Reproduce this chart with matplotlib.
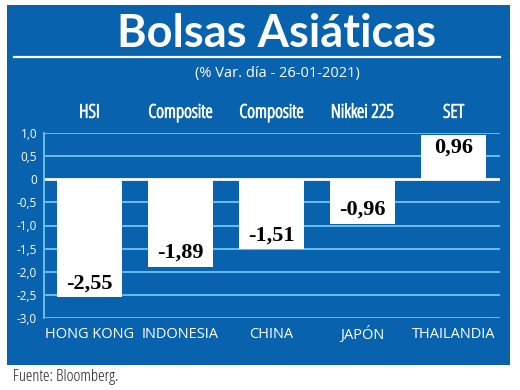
import matplotlib
matplotlib.use("Agg")
import matplotlib.pyplot as plt
from matplotlib.patches import Rectangle
from matplotlib.lines import Line2D
import matplotlib.patheffects as pe

countries = ["HONG KONG", "INDONESIA", "CHINA", "JAPÓN", "THAILANDIA"]
indices = ["HSI", "Composite", "Composite", "Nikkei 225", "SET"]
values = [-2.55, -1.89, -1.51, -0.96, 0.96]
labels = ["-2,55", "-1,89", "-1,51", "-0,96", "0,96"]
yticks = [1.0, 0.5, 0.0, -0.5, -1.0, -1.5, -2.0, -2.5, -3.0]
yticklabels = ["1,0", "0,5", "0", "-0,5", "-1,0", "-1,5", "-2,0", "-2,5", "-3,0"]

BLUE = "#0862ad"
GRID = "#6ec4ef"
W, H = 520, 390

fig = plt.figure(figsize=(5.2, 3.9), dpi=100)
fig.patch.set_facecolor("white")

def fx(px):
    return px / W

def fy(py):
    return 1 - py / H

# blue panel
fig.add_artist(Rectangle((fx(7), fy(365)), fx(510) - fx(7), fy(5) - fy(365),
                         transform=fig.transFigure, facecolor=BLUE, edgecolor="none", zorder=0))

# title
fig.text(fx(277), fy(34), "Bolsas Asiáticas", color="white", fontsize=32.5, fontweight="bold",
         family="Lato", ha="center", va="center")
fig.add_artist(Line2D([fx(14), fx(500)], [fy(57), fy(57)], transform=fig.transFigure,
                      color="white", lw=1.6))
fig.text(fx(277), fy(73), "(% Var. día - 26-01-2021)", color="white", fontsize=10.5,
         family="Open Sans", ha="center", va="center")

ax = fig.add_axes([fx(44), fy(318), fx(500) - fx(44), fy(133) - fy(318)])
ax.set_facecolor("none")
ax.set_xlim(-0.5, 4.51)
ax.set_ylim(-3.0, 1.0)

for t in yticks:
    if t == 0:
        continue
    ax.axhline(t, color=GRID, lw=1.3, zorder=1)
ax.axhline(0, color="white", lw=2, zorder=1)

x = list(range(len(values)))
ax.bar(x, values, width=0.714, color="white", zorder=2)

for xi, v, lab in zip(x, values, labels):
    if v < 0:
        ax.text(xi, v + 0.08, lab, ha="center", va="bottom", fontsize=16, fontweight="bold",
                family="Liberation Serif", color="black", zorder=3)
    else:
        ax.text(xi, v - 0.07, lab, ha="center", va="top", fontsize=16, fontweight="bold",
                family="Liberation Serif", color="black", zorder=3)

for s in ["top", "right", "bottom"]:
    ax.spines[s].set_visible(False)
ax.spines["left"].set_color(GRID)
ax.spines["left"].set_linewidth(1.3)
ax.set_yticks(yticks)
ax.set_yticklabels(yticklabels, color="white", fontsize=8.5, family="Open Sans")
ax.tick_params(axis="y", length=0, pad=5)
ax.set_xticks([])

thick = [pe.withStroke(linewidth=0.7, foreground="white")]
for xi, c, idx in zip(x, countries, indices):
    ax.text(xi, -3.0 - 0.35, c, ha="center", va="center", color="white", fontsize=10.5,
            family="Open Sans", clip_on=False)
    ax.text(xi, 1.0 + 0.44, idx, ha="center", va="center", color="white", fontsize=13.5,
            family="Open Sans", stretch="condensed", clip_on=False, path_effects=thick)

fig.text(fx(13), fy(377), "Fuente: Bloomberg.", color="#222222", fontsize=12,
         family="Open Sans", stretch="condensed", ha="left", va="center")

fig.savefig("out.png", dpi=100, facecolor="white")
